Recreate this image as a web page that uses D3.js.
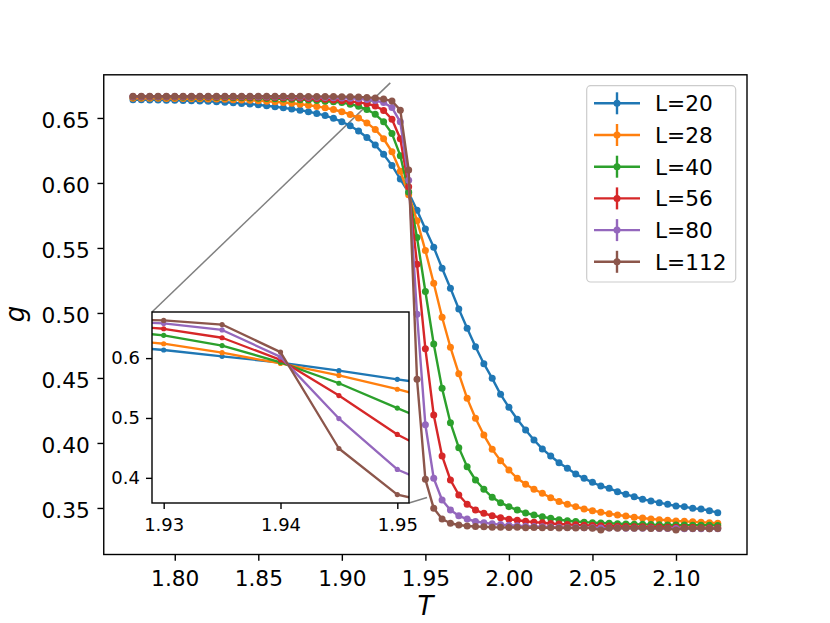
<!DOCTYPE html>
<html>
<head>
<meta charset="utf-8">
<script src="https://cdn.jsdelivr.net/npm/d3@7"></script>
<style>
  body { margin: 0; background: #fff; }
  svg { display: block; font-family: 'DejaVu Sans', sans-serif; }
</style>
</head>
<body>
<div id="chart"></div>
<script>
// CROSSING OF g(T) FOR SEVERAL SYSTEM SIZES, WITH A ZOOMED INSET

// CONST and GLOBALS
let width = 830;
let height = 623;
let plot = { left: 103.75, right: 747, top: 74.8, bottom: 554.5 };
let inset = { left: 152, right: 409, top: 312, bottom: 503 };

// temperatures (x values)
let temps = [
  1.775, 1.78, 1.785, 1.79, 1.795, 1.8, 1.805, 1.81, 1.815, 1.82,
  1.825, 1.83, 1.835, 1.84, 1.845, 1.85, 1.855, 1.86, 1.865, 1.87,
  1.875, 1.88, 1.885, 1.89, 1.895, 1.9, 1.905, 1.91, 1.915, 1.92,
  1.925, 1.93, 1.935, 1.94, 1.945, 1.95, 1.955, 1.96, 1.965, 1.97,
  1.975, 1.98, 1.985, 1.99, 1.995, 2.0, 2.005, 2.01, 2.015, 2.02,
  2.025, 2.03, 2.035, 2.04, 2.045, 2.05, 2.055, 2.06, 2.065, 2.07,
  2.075, 2.08, 2.085, 2.09, 2.095, 2.1, 2.105, 2.11, 2.115, 2.12,
  2.125,
];

// g values, one array per system size
let g20 = [
  0.664, 0.664, 0.6639, 0.6638, 0.6637, 0.6636, 0.6634, 0.6632, 0.663, 0.6628,
  0.6625, 0.6621, 0.6617, 0.6612, 0.6607, 0.6601, 0.6594, 0.6586, 0.6578, 0.6569,
  0.656, 0.6548, 0.6535, 0.6518, 0.6497, 0.6471, 0.644, 0.64, 0.635, 0.6292,
  0.622, 0.6135, 0.603, 0.5925, 0.579, 0.5645, 0.5505, 0.5344, 0.519, 0.503,
  0.4882, 0.474, 0.461, 0.4497, 0.4374, 0.4274, 0.4182, 0.41, 0.4023, 0.3954,
  0.39, 0.3848, 0.3805, 0.3761, 0.3728, 0.3697, 0.3669, 0.3651, 0.3625, 0.3605,
  0.3587, 0.3567, 0.3554, 0.3541, 0.3528, 0.3515, 0.351, 0.3497, 0.3492, 0.3479,
  0.3464,
];
let g28 = [
  0.6652, 0.6652, 0.6651, 0.6651, 0.665, 0.665, 0.6649, 0.6648, 0.6647, 0.6646,
  0.6645, 0.6643, 0.6641, 0.6639, 0.6636, 0.6633, 0.6629, 0.6624, 0.6619, 0.6613,
  0.6606, 0.6598, 0.6589, 0.6578, 0.6565, 0.6548, 0.6527, 0.65, 0.6462, 0.6412,
  0.634, 0.624, 0.609, 0.591, 0.571, 0.548, 0.5228, 0.4967, 0.4736, 0.4533,
  0.4343, 0.419, 0.4061, 0.3951, 0.3864, 0.3792, 0.3728, 0.3682, 0.3644, 0.3613,
  0.3578, 0.355, 0.3528, 0.351, 0.3492, 0.3479, 0.3467, 0.3455, 0.3446, 0.3438,
  0.3429, 0.3423, 0.3415, 0.341, 0.3405, 0.34, 0.3397, 0.3393, 0.339, 0.3387,
  0.3382,
];
let g40 = [
  0.6662, 0.6662, 0.6662, 0.6661, 0.6661, 0.6661, 0.666, 0.666, 0.6659, 0.6659,
  0.6658, 0.6657, 0.6656, 0.6655, 0.6654, 0.6652, 0.665, 0.6648, 0.6646, 0.6644,
  0.6641, 0.6638, 0.6634, 0.6629, 0.6624, 0.6618, 0.6606, 0.659, 0.6565, 0.6528,
  0.647, 0.638, 0.621, 0.593, 0.558, 0.5165, 0.4761, 0.442, 0.4156, 0.3964,
  0.3817, 0.3715, 0.3644, 0.3582, 0.3541, 0.351, 0.3484, 0.3462, 0.3446, 0.3432,
  0.342, 0.341, 0.3402, 0.3396, 0.3391, 0.3387, 0.3384, 0.3382, 0.3379, 0.3377,
  0.3375, 0.3374, 0.3372, 0.337, 0.3369, 0.3369, 0.3368, 0.3367, 0.3367, 0.3367,
  0.3366,
];
let g56 = [
  0.6664, 0.6664, 0.6664, 0.6664, 0.6664, 0.6663, 0.6663, 0.6663, 0.6663, 0.6662,
  0.6662, 0.6662, 0.6661, 0.6661, 0.666, 0.6659, 0.6658, 0.6657, 0.6656, 0.6654,
  0.6652, 0.665, 0.6647, 0.6643, 0.6638, 0.6632, 0.6627, 0.662, 0.661, 0.6592,
  0.6558, 0.649, 0.634, 0.597, 0.5375, 0.4725, 0.4215, 0.39, 0.3715, 0.36,
  0.3528, 0.3484, 0.3459, 0.344, 0.3425, 0.3413, 0.3405, 0.3398, 0.3391, 0.3386,
  0.3381, 0.3377, 0.3373, 0.337, 0.3367, 0.3365, 0.3363, 0.3361, 0.3359, 0.3358,
  0.3356, 0.3355, 0.3354, 0.3353, 0.3352, 0.3351, 0.335, 0.3349, 0.3348, 0.3347,
  0.3347,
];
let g80 = [
  0.6666, 0.6666, 0.6666, 0.6666, 0.6666, 0.6666, 0.6666, 0.6666, 0.6666, 0.6666,
  0.6666, 0.6665, 0.6665, 0.6665, 0.6665, 0.6664, 0.6664, 0.6663, 0.6663, 0.6662,
  0.6661, 0.666, 0.6659, 0.6658, 0.6656, 0.6654, 0.6651, 0.6647, 0.6642, 0.6634,
  0.6618, 0.658, 0.647, 0.602, 0.499, 0.414, 0.3728, 0.3561, 0.3484, 0.344,
  0.3415, 0.3396, 0.3387, 0.3378, 0.3372, 0.3367, 0.3363, 0.336, 0.3357, 0.3355,
  0.3353, 0.3352, 0.335, 0.3349, 0.3348, 0.3347, 0.3346, 0.3345, 0.3345, 0.3344,
  0.3344, 0.3343, 0.3343, 0.3342, 0.3342, 0.3342, 0.3341, 0.3341, 0.3341, 0.3341,
  0.334,
];
let g112 = [
  0.6667, 0.6667, 0.6667, 0.6667, 0.6667, 0.6667, 0.6667, 0.6667, 0.6667, 0.6667,
  0.6667, 0.6667, 0.6667, 0.6667, 0.6667, 0.6667, 0.6667, 0.6667, 0.6667, 0.6667,
  0.6667, 0.6666, 0.6666, 0.6666, 0.6665, 0.6664, 0.6663, 0.6661, 0.6658, 0.6654,
  0.6646, 0.663, 0.656, 0.61, 0.449, 0.372, 0.3497, 0.3415, 0.3382, 0.3369,
  0.3361, 0.3357, 0.3355, 0.3352, 0.3351, 0.335, 0.3352, 0.3348, 0.335, 0.3347,
  0.3349, 0.3346, 0.3348, 0.3345, 0.3347, 0.3344, 0.333, 0.3346, 0.3344, 0.3345,
  0.3343, 0.3345, 0.3342, 0.3344, 0.3343, 0.333, 0.3344, 0.3342, 0.3343, 0.3341,
  0.3342,
];

let sizes = [20, 28, 40, 56, 80, 112];
let colors = ['#1f77b4', '#ff7f0e', '#2ca02c', '#d62728', '#9467bd', '#8c564b'];
let seriesValues = [g20, g28, g40, g56, g80, g112];

// tick labels
let xTicks = [1.8, 1.85, 1.9, 1.95, 2.0, 2.05, 2.1];
let yTicks = [0.35, 0.4, 0.45, 0.5, 0.55, 0.6, 0.65];
let insetXTicks = [1.93, 1.94, 1.95];
let insetYTicks = [0.4, 0.5, 0.6];

// zoom window shown in the inset
let insetXDomain = [1.929, 1.951];
let insetYDomain = [0.358, 0.677];

let svg;
let xScale, yScale, xIn, yIn;

// Application state
let state = {
  series: sizes.map((L, k) => ({
    label: 'L=' + L,
    color: colors[k],
    points: temps.map((t, i) => ({ t: t, g: seriesValues[k][i] })),
  })),
};

init();

function styleAxis(g, fontSize) {
  g.select('.domain').remove();
  g.attr('font-family', null).attr('font-size', fontSize + 'px');
  g.selectAll('.tick line').attr('stroke', '#000').attr('stroke-width', 1.4);
  g.selectAll('.tick text').attr('fill', '#000');
}

function init() {
  xScale = d3.scaleLinear().domain([1.7575, 2.1425]).range([plot.left, plot.right]);
  yScale = d3.scaleLinear().domain([0.3142, 0.6832]).range([plot.bottom, plot.top]);
  xIn = d3.scaleLinear().domain(insetXDomain).range([inset.left, inset.right]);
  yIn = d3.scaleLinear().domain(insetYDomain).range([inset.bottom, inset.top]);

  svg = d3
    .select('#chart')
    .append('svg')
    .attr('width', width)
    .attr('height', height)
    .attr('viewBox', `0 0 ${width} ${height}`);

  svg.append('rect').attr('width', width).attr('height', height).attr('fill', '#fff');

  // inset connector lines (under the data)
  let corners = [
    [[xScale(insetXDomain[0]), yScale(insetYDomain[1])], [inset.left, inset.top]],
    [[xScale(insetXDomain[1]), yScale(insetYDomain[0])], [inset.right, inset.bottom]],
  ];
  svg
    .selectAll('.connector')
    .data(corners)
    .join('line')
    .attr('class', 'connector')
    .attr('x1', d => d[0][0])
    .attr('y1', d => d[0][1])
    .attr('x2', d => d[1][0])
    .attr('y2', d => d[1][1])
    .attr('stroke', '#808080')
    .attr('stroke-width', 1.5);

  drawSeries(svg.append('g'), xScale, yScale, 2.4, 3.5);

  // AXES
  let xAxis = d3.axisBottom(xScale).tickValues(xTicks).tickFormat(d3.format('.2f')).tickSize(6.3).tickPadding(9.4);
  let yAxis = d3.axisLeft(yScale).tickValues(yTicks).tickFormat(d3.format('.2f')).tickSize(6.3).tickPadding(7.7);

  svg
    .append('g')
    .attr('class', 'axis x-axis')
    .attr('transform', `translate(0,${plot.bottom})`)
    .call(xAxis)
    .call(g => styleAxis(g, 21.7));

  svg
    .append('g')
    .attr('class', 'axis y-axis')
    .attr('transform', `translate(${plot.left},0)`)
    .call(yAxis)
    .call(g => styleAxis(g, 21.7))
    .selectAll('.tick text')
    .attr('dy', '0.42em');

  svg
    .append('rect')
    .attr('x', plot.left)
    .attr('y', plot.top)
    .attr('width', plot.right - plot.left)
    .attr('height', plot.bottom - plot.top)
    .attr('fill', 'none')
    .attr('stroke', '#000')
    .attr('stroke-width', 1.4);

  // axis titles
  svg
    .append('text')
    .attr('x', 425.5)
    .attr('y', 615)
    .attr('text-anchor', 'middle')
    .attr('font-style', 'italic')
    .attr('font-size', '26px')
    .text('T');

  svg
    .append('text')
    .attr('transform', 'translate(24,314) rotate(-90)')
    .attr('text-anchor', 'middle')
    .attr('font-style', 'italic')
    .attr('font-size', '26px')
    .text('g');

  drawLegend();
  drawInset();
}

function drawSeries(g, xs, ys, lineWidth, r) {
  let line = d3
    .line()
    .x(d => xs(d.t))
    .y(d => ys(d.g));

  let groups = g
    .selectAll('.series')
    .data(state.series)
    .join('g')
    .attr('class', 'series');

  groups
    .append('path')
    .attr('d', d => line(d.points))
    .attr('fill', 'none')
    .attr('stroke', d => d.color)
    .attr('stroke-width', lineWidth)
    .attr('stroke-linejoin', 'round');

  groups
    .selectAll('circle')
    .data(d => d.points.map(p => ({ ...p, color: d.color })))
    .join('circle')
    .attr('cx', d => xs(d.t))
    .attr('cy', d => ys(d.g))
    .attr('r', r)
    .attr('fill', d => d.color);
}

function drawLegend() {
  let lg = svg.append('g').attr('class', 'legend');

  lg.append('rect')
    .attr('x', 586.7)
    .attr('y', 85.7)
    .attr('width', 149)
    .attr('height', 196.3)
    .attr('rx', 4)
    .attr('fill', '#fff')
    .attr('fill-opacity', 0.8)
    .attr('stroke', '#cccccc')
    .attr('stroke-width', 1.2);

  let rows = lg
    .selectAll('.entry')
    .data(state.series)
    .join('g')
    .attr('class', 'entry')
    .attr('transform', (d, i) => `translate(0,${103.3 + i * 31.7})`);

  rows.append('line')
    .attr('x1', 594).attr('x2', 640)
    .attr('stroke', d => d.color)
    .attr('stroke-width', 2.4);

  rows.append('line')
    .attr('x1', 617).attr('x2', 617)
    .attr('y1', -11).attr('y2', 11)
    .attr('stroke', d => d.color)
    .attr('stroke-width', 2.4);

  rows.append('circle')
    .attr('cx', 617)
    .attr('r', 3.5)
    .attr('fill', d => d.color);

  rows.append('text')
    .attr('x', 655)
    .attr('dy', '0.36em')
    .attr('font-size', '21.7px')
    .text(d => d.label);
}

function drawInset() {
  let ig = svg.append('g').attr('class', 'inset');

  ig.append('rect')
    .attr('x', inset.left)
    .attr('y', inset.top)
    .attr('width', inset.right - inset.left)
    .attr('height', inset.bottom - inset.top)
    .attr('fill', '#fff');

  svg.append('defs')
    .append('clipPath')
    .attr('id', 'inset-clip')
    .append('rect')
    .attr('x', inset.left)
    .attr('y', inset.top)
    .attr('width', inset.right - inset.left)
    .attr('height', inset.bottom - inset.top);

  drawSeries(ig.append('g').attr('clip-path', 'url(#inset-clip)'), xIn, yIn, 2.3, 2.6);

  let xAxisIn = d3.axisBottom(xIn).tickValues(insetXTicks).tickFormat(d3.format('.2f')).tickSize(6).tickPadding(9.1);
  let yAxisIn = d3.axisLeft(yIn).tickValues(insetYTicks).tickFormat(d3.format('.1f')).tickSize(6).tickPadding(6);

  ig.append('g')
    .attr('transform', `translate(0,${inset.bottom})`)
    .call(xAxisIn)
    .call(g => styleAxis(g, 18));

  ig.append('g')
    .attr('transform', `translate(${inset.left},0)`)
    .call(yAxisIn)
    .call(g => styleAxis(g, 18));

  ig.append('rect')
    .attr('x', inset.left)
    .attr('y', inset.top)
    .attr('width', inset.right - inset.left)
    .attr('height', inset.bottom - inset.top)
    .attr('fill', 'none')
    .attr('stroke', '#000')
    .attr('stroke-width', 1.4);
}
</script>
</body>
</html>
